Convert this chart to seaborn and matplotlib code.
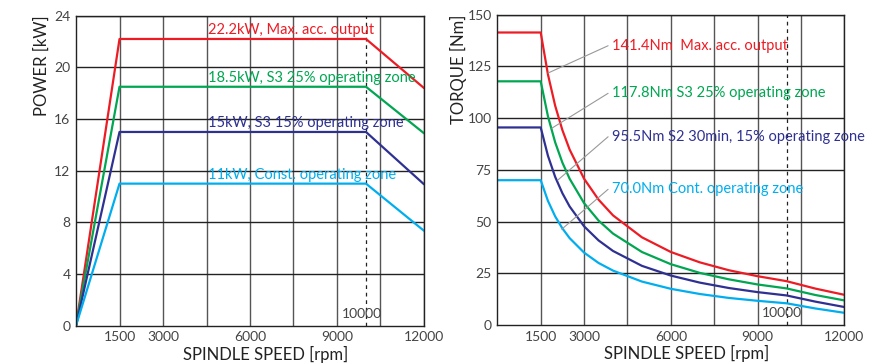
import numpy as np
import pandas as pd
import matplotlib.pyplot as plt
import seaborn as sns

# ------------------------------------------------------------------
# Data
# ------------------------------------------------------------------
SERIES = ["max", "s3_25", "s3_15", "cont"]
COLORS = ["#ed1c24", "#00a651", "#2e3192", "#00aeef"]

power_rpm = [0, 1500, 10000, 12000]
power_max = [0, 22.2, 22.2, 18.4]
power_s3_25 = [0, 18.5, 18.5, 14.9]
power_s3_15 = [0, 15.0, 15.0, 10.95]
power_cont = [0, 11.0, 11.0, 7.35]

torque_rpm = [0, 1500, 1750, 2000, 2250, 2500, 3000, 3500, 4000, 5000,
              6000, 7000, 8000, 9000, 10000, 11000, 12000]
torque_max = [141.4, 141.4, 121.1, 106.0, 94.2, 84.8, 70.7, 60.6, 53.0, 42.4,
              35.3, 30.3, 26.5, 23.6, 21.2, 17.6, 14.6]
torque_s3_25 = [117.8, 117.8, 100.9, 88.3, 78.5, 70.7, 58.9, 50.5, 44.2, 35.3,
                29.4, 25.2, 22.1, 19.6, 17.7, 14.5, 11.9]
torque_s3_15 = [95.5, 95.5, 81.8, 71.6, 63.7, 57.3, 47.7, 40.9, 35.8, 28.6,
                23.9, 20.5, 17.9, 15.9, 14.3, 11.3, 8.7]
torque_cont = [70.0, 70.0, 60.0, 52.5, 46.7, 42.0, 35.0, 30.0, 26.3, 21.0,
               17.5, 15.0, 13.1, 11.7, 10.5, 8.0, 5.9]

power_labels = ["22.2kW, Max. acc. output",
                "18.5kW, S3 25% operating zone",
                "15kW, S3 15% operating zone",
                "11kW, Const. operating zone"]
power_label_y = [22.35, 18.65, 15.15, 11.15]

torque_labels = ["141.4Nm  Max. acc. output",
                 "117.8Nm S3 25% operating zone",
                 "95.5Nm S2 30min, 15% operating zone",
                 "70.0Nm Cont. operating zone"]
torque_label_y = [135, 112, 91, 65.6]
leader_from = [(1753, 121.8), (1880, 95.1), (2094, 70.1), (2227, 46.3)]
leader_to_x = 3830

x_ticks = [0, 1500, 3000, 4500, 6000, 7500, 9000, 10500, 12000]
x_tick_labels = ["", "1500", "3000", "", "6000", "", "9000", "", "12000"]

sns.set_style("white")
plt.rcParams["font.family"] = ["Lato", "DejaVu Sans"]

power_df = pd.DataFrame({
    "rpm": power_rpm * 4,
    "value": power_max + power_s3_25 + power_s3_15 + power_cont,
    "series": np.repeat(SERIES, len(power_rpm)),
})
torque_df = pd.DataFrame({
    "rpm": torque_rpm * 4,
    "value": torque_max + torque_s3_25 + torque_s3_15 + torque_cont,
    "series": np.repeat(SERIES, len(torque_rpm)),
})

fig = plt.figure(figsize=(8.87, 3.64), dpi=100)
ax1 = fig.add_axes([0.0857, 0.1052, 0.3923, 0.8516])
ax2 = fig.add_axes([0.5607, 0.1071, 0.3912, 0.8525])

palette = dict(zip(SERIES, COLORS))


def style_axis(ax, yticks, ylabel, pad):
    ax.set_xlim(0, 12000)
    ax.set_ylim(yticks[0], yticks[-1])
    ax.set_xticks(x_ticks)
    ax.set_xticklabels(x_tick_labels)
    ax.set_yticks(yticks)
    ax.tick_params(length=0, labelsize=10, colors="#444444", pad=4)
    for x in x_ticks[1:]:
        ax.axvline(x, color="#555555", lw=1.0, zorder=0)
    for y in yticks[1:]:
        ax.axhline(y, color="#222222", lw=1.0, zorder=0)
    for sp in ax.spines.values():
        sp.set_color("#222222")
        sp.set_linewidth(1.0)
    # 10000 rpm marker
    ax.axvline(10000, color="#222222", lw=0.9, ls=(0, (3, 3)), zorder=1)
    ax.text(9850, yticks[-1] * 0.02, "10000", ha="center", va="bottom",
            fontsize=10, color="#444444")
    ax.set_xlabel("SPINDLE SPEED [rpm]", fontsize=12, color="#222222")
    ax.xaxis.set_label_coords(0.545, -0.065, transform=ax.transAxes)
    ax.set_ylabel(ylabel, fontsize=12, color="#222222", loc="top", labelpad=pad)


sns.lineplot(data=power_df, x="rpm", y="value", hue="series", palette=palette,
             estimator=None, sort=False, lw=1.6, ax=ax1, legend=False)
style_axis(ax1, [0, 4, 8, 12, 16, 20, 24], "POWER [kW]", 3)
for label, y, c in zip(power_labels, power_label_y, COLORS):
    ax1.text(4550, y, label, color=c, fontsize=10.5, va="bottom")

sns.lineplot(data=torque_df, x="rpm", y="value", hue="series", palette=palette,
             estimator=None, sort=False, lw=1.6, ax=ax2, legend=False)
style_axis(ax2, [0, 25, 50, 75, 100, 125, 150], "TORQUE [Nm]", 0)
for label, y, c, (lx, ly) in zip(torque_labels, torque_label_y, COLORS,
                                 leader_from):
    ax2.plot([lx, leader_to_x], [ly, y], color="#999999", lw=0.8, zorder=3)
    ax2.text(leader_to_x + 130, y, label, color=c, fontsize=10.5, va="center")

fig.savefig("out.png", dpi=100)
